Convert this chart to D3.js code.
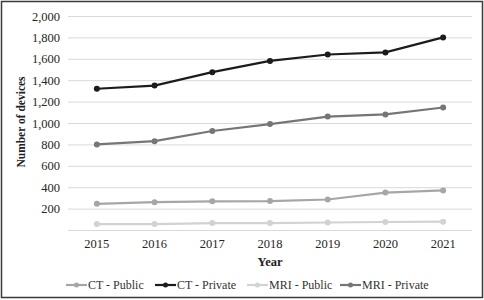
<!DOCTYPE html>
<html>
<head>
<meta charset="utf-8">
<script src="https://cdn.jsdelivr.net/npm/d3@7"></script>
<style>
  body { margin: 0; background: #fff; }
  #chart svg { display: block; }
  #chart svg text { font-family: "Liberation Serif", "Times New Roman", Times, serif; }
</style>
</head>
<body>
<div id="chart"></div>
<script>
// data
var years = ['2015', '2016', '2017', '2018', '2019', '2020', '2021'];
var ctPublic = [245, 260, 268, 270, 285, 350, 370];
var ctPrivate = [1320, 1350, 1475, 1580, 1640, 1660, 1800];
var mriPublic = [55, 55, 65, 65, 70, 75, 78];
var mriPrivate = [800, 830, 925, 990, 1060, 1080, 1145];
var yTicks = [200, 400, 600, 800, 1000, 1200, 1400, 1600, 1800, 2000];

var seriesNames = ['CT - Public', 'CT - Private', 'MRI - Public', 'MRI - Private'];
var seriesValues = [ctPublic, ctPrivate, mriPublic, mriPrivate];
var seriesColors = ['#a6a6a6', '#1c1c1c', '#d2d2d2', '#767676'];

var width = 484, height = 300;

var svg = d3.select('#chart').append('svg')
    .attr('width', width)
    .attr('height', height);

// outer frame
svg.append('rect')
    .attr('x', 1.5).attr('y', 1.5)
    .attr('width', width - 3).attr('height', height - 4)
    .attr('fill', 'none')
    .attr('stroke', '#3a3a3a')
    .attr('stroke-width', 1.5);

var x = d3.scaleBand().domain(years).range([68, 472]);
var y = d3.scaleLinear().domain([0, 2000]).range([230, 16]);

// gridlines (including the zero line)
svg.append('g')
    .selectAll('line')
    .data([0].concat(yTicks))
    .enter()
    .append('line')
    .attr('x1', 68).attr('x2', 472)
    .attr('y1', function(d) { return y(d) + 0.5; })
    .attr('y2', function(d) { return y(d) + 0.5; })
    .attr('stroke', '#d9d9d9')
    .attr('stroke-width', 1);

// y tick labels
var yAxis = svg.append('g')
    .attr('transform', 'translate(68,0)')
    .call(d3.axisLeft(y).tickValues(yTicks).tickSize(0).tickPadding(8).tickFormat(d3.format(',')))
    .attr('font-family', null)
    .attr('font-size', null);
yAxis.select('.domain').remove();
yAxis.selectAll('text')
    .style('font-size', '12.5px')
    .attr('fill', '#262626');

// x tick labels
var xAxis = svg.append('g')
    .attr('transform', 'translate(0,230)')
    .call(d3.axisBottom(x).tickSize(0).tickPadding(9))
    .attr('font-family', null)
    .attr('font-size', null);
xAxis.select('.domain').remove();
xAxis.selectAll('text')
    .style('font-size', '12.5px')
    .attr('fill', '#262626');

// axis titles
svg.append('text')
    .attr('x', (68 + 472) / 2)
    .attr('y', 266)
    .attr('text-anchor', 'middle')
    .style('font-size', '12.5px')
    .attr('font-weight', 'bold')
    .attr('fill', '#222')
    .text('Year');

svg.append('text')
    .attr('transform', 'translate(25,122) rotate(-90)')
    .attr('text-anchor', 'middle')
    .style('font-size', '11.5px')
    .attr('font-weight', 'bold')
    .attr('fill', '#222')
    .text('Number of devices');

// lines + markers
var line = d3.line()
    .x(function(d, i) { return x(years[i]) + x.bandwidth() / 2; })
    .y(function(d) { return y(d); });

seriesValues.forEach(function(vals, s) {
    var g = svg.append('g');
    g.append('path')
        .datum(vals)
        .attr('d', line)
        .attr('fill', 'none')
        .attr('stroke', seriesColors[s])
        .attr('stroke-width', 2.2);
    g.selectAll('circle')
        .data(vals)
        .enter()
        .append('circle')
        .attr('cx', function(d, i) { return x(years[i]) + x.bandwidth() / 2; })
        .attr('cy', function(d) { return y(d); })
        .attr('r', 3)
        .attr('fill', seriesColors[s]);
});

// legend
var legendX = [66, 155, 247, 340];
var legend = svg.append('g')
    .selectAll('g')
    .data(seriesNames)
    .enter()
    .append('g')
    .attr('transform', function(d, i) { return 'translate(' + legendX[i] + ',285)'; });

legend.append('line')
    .attr('x1', 0).attr('x2', 21)
    .attr('y1', 0).attr('y2', 0)
    .attr('stroke', function(d, i) { return seriesColors[i]; })
    .attr('stroke-width', 2.2);
legend.append('circle')
    .attr('cx', 10.5).attr('cy', 0).attr('r', 2.5)
    .attr('fill', function(d, i) { return seriesColors[i]; });
legend.append('text')
    .attr('x', 22)
    .attr('y', 4)
    .style('font-size', '12px')
    .attr('fill', '#333')
    .text(function(d) { return d; });
</script>
</body>
</html>
